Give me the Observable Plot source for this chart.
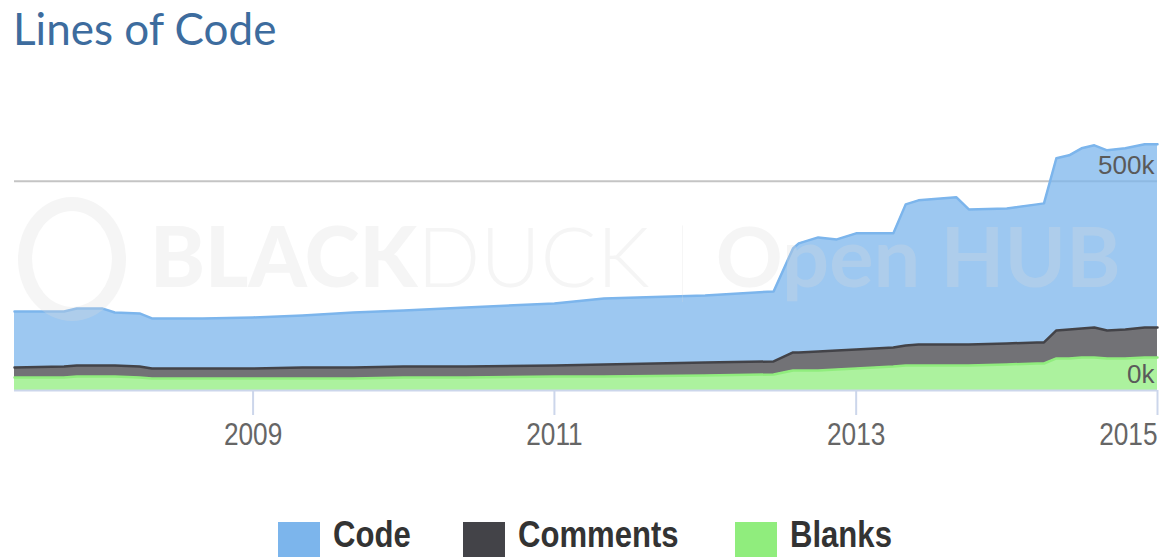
<!DOCTYPE html>
<html>
<head>
<meta charset="utf-8">
<script src="https://cdn.jsdelivr.net/npm/d3@7"></script>
<script src="https://cdn.jsdelivr.net/npm/@observablehq/plot@0.6"></script>
<style>
  html, body { margin: 0; padding: 0; background: #fff; }
  #wrap { position: relative; width: 1160px; height: 557px; overflow: hidden; }
  #title { position: absolute; left: 13px; top: 5px; font-family: Lato, "Open Sans", sans-serif; font-size: 44px; line-height: 46px; color: #3d6c9e; white-space: nowrap; }
  #chart { position: absolute; left: 0; top: 60px; }
  #wm { position: absolute; left: 0; top: 0; width: 1160px; height: 557px; pointer-events: none; opacity: 0.28; color: #dcdcdc; font-family: Lato, sans-serif; }
  #wm .ring { position: absolute; left: 18px; top: 197px; width: 80px; height: 96px; border: 14px solid #dcdcdc; border-radius: 50%; }
  #wm .txt { position: absolute; left: 150px; top: 205px; font-size: 83px; line-height: 100px; white-space: nowrap; }
  #legend { position: absolute; left: 0; top: 522px; width: 1160px; height: 35px; font-family: "Liberation Sans", sans-serif; font-weight: bold; font-size: 37px; color: #333; }
  .item { position: absolute; top: 0; display: flex; align-items: flex-start; }
  .sw { width: 42px; height: 42px; margin-right: 13px; }
  .lab { line-height: 32px; margin-top: -3px; white-space: nowrap; transform: scaleX(0.84); transform-origin: 0 0; }
</style>
</head>
<body>
<div id="wrap">
  <div id="title">Lines of Code</div>
  <div id="chart"></div>
  <div id="wm"><div class="ring"></div><div class="txt"><span style="font-weight:900">BLACK</span><span style="font-weight:300">DUCK</span><span style="font-weight:100"> | </span><span style="font-weight:700">Open HUB</span></div></div>
  <div id="legend"></div>
</div>
<script>
const dates = ["2007-06-03","2007-10-01","2007-11-01","2008-01-01","2008-02-01","2008-04-01","2008-05-01","2008-09-01","2009-01-01","2009-05-01","2009-09-01","2010-01-01","2010-06-01","2011-01-01","2011-05-01","2012-01-01","2012-06-15","2012-08-01","2012-08-15","2012-10-01","2012-11-15","2013-01-01","2013-04-01","2013-05-01","2013-06-01","2013-09-01","2013-10-01","2014-01-01","2014-03-15","2014-04-01","2014-05-01","2014-06-01","2014-07-01","2014-08-01","2014-09-01","2014-10-15","2014-12-01","2015-01-01"];
const code = [134000,131600,136400,136400,126800,126800,119600,119600,122000,124400,131600,134000,141100,148300,157900,160300,167500,248800,260800,272700,265500,277500,272700,337300,344500,351700,322900,322900,330100,332500,411500,416200,430600,435400,430600,433000,437800,437800];
const comments = [23900,26300,26300,26300,26300,26300,23900,23900,23900,26300,26300,26300,26300,26300,28700,31100,31100,43100,43100,45500,45500,45500,45500,47800,50200,50200,50200,50200,50200,50200,67000,69400,69400,71800,67000,69400,71800,71800];
const blanks = [31100,31100,33500,33500,33500,31100,28700,28700,28700,28700,28700,31100,31100,33500,33500,35900,38300,47800,47800,47800,50200,52600,57400,59800,59800,59800,59800,62200,64600,64600,76600,76600,78900,78900,76600,76600,78900,78900];
const seriesNames = ["Code", "Comments", "Blanks"];
const seriesColors = ["#7cb5ec", "#434348", "#90ed7d"];
const xTickYears = ["2009-01-01", "2011-01-01", "2013-01-01", "2015-01-01"];
const yTicks = [0, 500000];
const xDomain = ["2007-06-03", "2015-01-01"];

const valuesBySeries = {Code: code, Comments: comments, Blanks: blanks};
const stackOrder = ["Blanks", "Comments", "Code"];
const rows = [];
for (const s of stackOrder) {
  valuesBySeries[s].forEach((v, i) => rows.push({date: new Date(dates[i]), value: v, series: s}));
}
const xTicks = xTickYears.map(d => new Date(d));
const labelStyle = {tickSize: 0, tickPadding: 32, tickFormat: "%Y", fill: "#666", fontSize: 32, fontFamily: "Liberation Sans, sans-serif", className: "xlab"};

const chart = Plot.plot({
  width: 1160,
  height: 410,
  marginTop: 79,
  marginBottom: 80,
  marginLeft: 14,
  marginRight: 3,
  style: {background: "transparent", fontFamily: "Liberation Sans, sans-serif"},
  x: {type: "utc", domain: xDomain.map(d => new Date(d))},
  y: {domain: [0, 600000], label: null},
  color: {domain: seriesNames, range: seriesColors},
  marks: [
    Plot.gridY([500000], {stroke: "#c4c4c4", strokeOpacity: 1, strokeWidth: 2}),
    Plot.areaY(rows, {x: "date", y: "value", z: "series", fill: "series", fillOpacity: 0.75, order: stackOrder}),
    Plot.line(rows, Plot.stackY2({x: "date", y: "value", z: "series", stroke: "series", strokeWidth: 2.5, order: stackOrder})),
    Plot.ruleY([0], {stroke: "#ccd6eb", strokeWidth: 2}),
    Plot.axisX(xTicks, {tickSize: 25, text: null, stroke: "#ccd6eb", strokeWidth: 2, strokeOpacity: 1, label: null}),
    Plot.axisX(xTicks.slice(0, -1), {...labelStyle, label: null}),
    Plot.axisX(xTicks.slice(-1), {...labelStyle, textAnchor: "end", label: null}),
    Plot.axisY({ticks: yTicks, anchor: "right", tickSize: 0, tickPadding: 0, textAnchor: "end", dx: -3, dy: -16, tickFormat: d => d / 1000 + "k", fill: "#5a5a5a", fontSize: 26, fontFamily: "Liberation Sans, sans-serif", label: null})
  ]
});
document.getElementById("chart").appendChild(chart);

// narrow the x tick labels horizontally (condensed look of the reference)
d3.select(chart).selectAll(".xlab text").each(function () {
  const x = +(this.getAttribute("x") || 0);
  const t = this.getAttribute("transform") || "";
  this.setAttribute("transform", `${t} translate(${x} 0) scale(0.82 1) translate(${-x} 0)`);
});

const legendLeft = [278, 463, 735];
const legend = document.getElementById("legend");
seriesNames.forEach((s, i) => {
  const it = document.createElement("div");
  it.className = "item";
  it.style.left = legendLeft[i] + "px";
  it.innerHTML = `<div class="sw" style="background:${seriesColors[i]}"></div><div class="lab">${s}</div>`;
  legend.appendChild(it);
});
</script>
</body>
</html>
